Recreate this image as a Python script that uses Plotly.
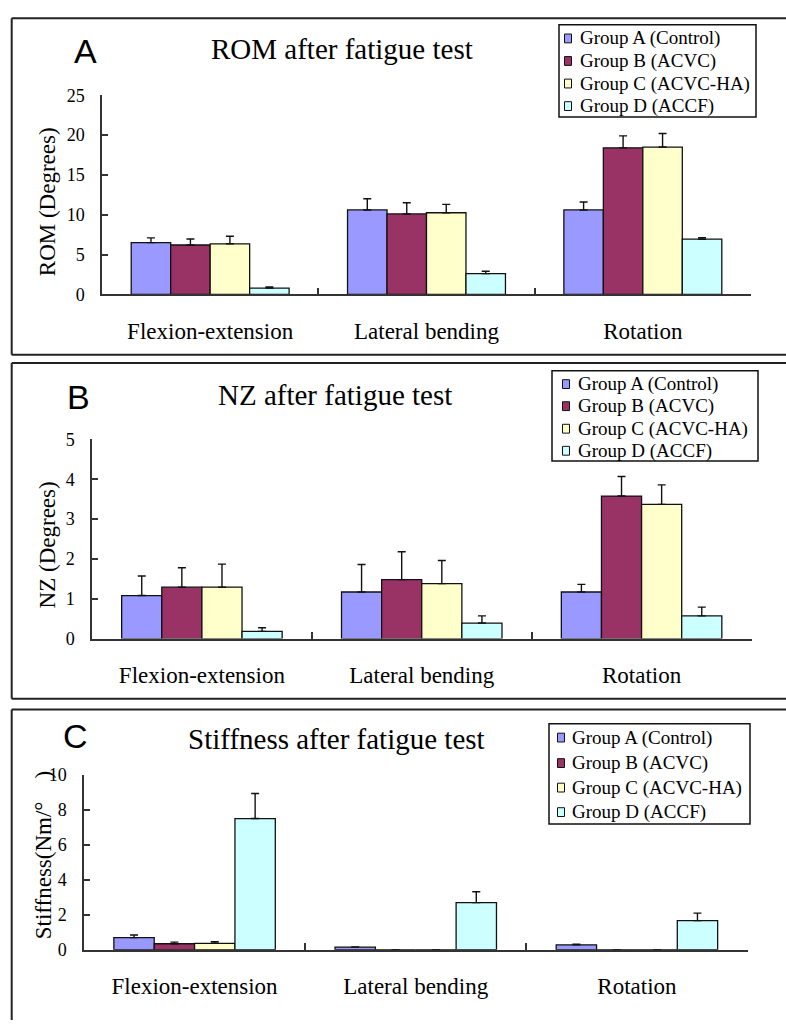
import plotly.graph_objects as go

# ---------------- data ----------------
categories = ["Flexion-extension", "Lateral bending", "Rotation"]
groups = ["Group A (Control)", "Group B (ACVC)", "Group C (ACVC-HA)", "Group D (ACCF)"]
colors = ["#9999FF", "#993366", "#FFFFCC", "#CCFFFF"]

# ROM after fatigue test (degrees)
rom_a = [6.5, 10.6, 10.6]
rom_b = [6.2, 10.1, 18.4]
rom_c = [6.35, 10.25, 18.5]
rom_d = [0.78, 2.6, 6.93]
rom_a_err = [0.6, 1.4, 1.0]
rom_b_err = [0.75, 1.4, 1.5]
rom_c_err = [0.95, 1.05, 1.7]
rom_d_err = [0.16, 0.3, 0.2]

# NZ after fatigue test (degrees)
nz_a = [1.08, 1.17, 1.17]
nz_b = [1.29, 1.48, 3.58]
nz_c = [1.29, 1.38, 3.37]
nz_d = [0.18, 0.39, 0.57]
nz_a_err = [0.49, 0.69, 0.19]
nz_b_err = [0.49, 0.7, 0.49]
nz_c_err = [0.58, 0.58, 0.49]
nz_d_err = [0.09, 0.18, 0.22]

# Stiffness after fatigue test (Nm/deg)
st_a = [0.69, 0.15, 0.28]
st_b = [0.34, 0, 0]
st_c = [0.36, 0, 0]
st_d = [7.5, 2.69, 1.66]
st_a_err = [0.15, 0.0, 0.03]
st_b_err = [0.09, 0.0, 0.0]
st_c_err = [0.09, 0.0, 0.0]
st_d_err = [1.43, 0.62, 0.43]

rom_ticks = [0, 5, 10, 15, 20, 25]
nz_ticks = [0, 1, 2, 3, 4, 5]
st_ticks = [0, 2, 4, 6, 8, 10]

# ---------------- geometry helpers (page pixels -> paper) ----------------
W, H = 786, 1030


def px(x):
    return x / W


def py(y):
    return 1 - y / H


SERIF = "Liberation Serif, Times New Roman, serif"
SANS = "Liberation Sans, Arial, sans-serif"

panels = [
    dict(letter="A", title="ROM after fatigue test", ytitle="ROM (Degrees)",
         series=[rom_a, rom_b, rom_c, rom_d], errs=[rom_a_err, rom_b_err, rom_c_err, rom_d_err],
         ticks=rom_ticks, xdom=(102, 751), ydom=(290, 87),
         letter_pos=(85, 42), title_pos=(342, 40), ytitle_pos=(47, 196),
         frame=(11.7, 8.3, 351.7),
         legend=dict(box=(559, 15, 756, 109), rows=[29, 52, 75, 98], mx=568, tx=578)),
    dict(letter="B", title="NZ after fatigue test", ytitle="NZ (Degrees)",
         series=[nz_a, nz_b, nz_c, nz_d], errs=[nz_a_err, nz_b_err, nz_c_err, nz_d_err],
         ticks=nz_ticks, xdom=(92, 751.5), ydom=(641, 438),
         letter_pos=(78, 395), title_pos=(335, 393), ytitle_pos=(47, 546),
         frame=(11.7, 360, 702.3),
         legend=dict(box=(552, 368, 758, 460), rows=[381.5, 404, 427, 449.5], mx=566, tx=576)),
    dict(letter="C", title="Stiffness after fatigue test", ytitle="Stiffness(Nm/°    )",
         series=[st_a, st_b, st_c, st_d], errs=[st_a_err, st_b_err, st_c_err, st_d_err],
         ticks=st_ticks, xdom=(84, 747.5), ydom=(958.3, 780),
         letter_pos=(75, 740), title_pos=(336, 743), ytitle_pos=(43, 862),
         frame=(11.7, 713.3, None),
         legend=dict(box=(549, 728, 750, 830), rows=[742, 768, 793, 818], mx=561, tx=570)),
]

fig = go.Figure()
shapes = []
annotations = []
layout_axes = {}
frame_line = dict(color="#222222", width=2)

for i, p in enumerate(panels):
    n = "" if i == 0 else str(i + 1)
    xa, ya = "x" + n, "y" + n
    for g, (name, col, vals, err) in enumerate(zip(groups, colors, p["series"], p["errs"])):
        fig.add_trace(go.Bar(
            x=categories, y=vals, name=name, xaxis=xa, yaxis=ya,
            marker=dict(color=col, line=dict(color="#111111", width=1.3)),
            error_y=dict(type="data", array=err, arrayminus=[0] * len(err), symmetric=False,
                         color="#111111", thickness=1.4, width=4),
            showlegend=False,
        ))
    layout_axes["xaxis" + n] = dict(
        domain=[px(p["xdom"][0]), px(p["xdom"][1])], anchor=ya,
        type="category", range=[-0.5, 2.5], showline=True, linecolor="#333333", linewidth=1.5,
        ticks="inside", tickson="boundaries", ticklen=7, tickcolor="#333333", tickwidth=1.5,
        tickfont=dict(family=SERIF, size=23, color="#000000"), ticklabelstandoff=15,
        showgrid=False, zeroline=False, fixedrange=True,
    )
    t = p["ticks"]
    layout_axes["yaxis" + n] = dict(
        domain=[py(p["ydom"][0]), py(p["ydom"][1])], anchor=xa,
        range=[t[0], t[-1]], tickvals=t, showline=True, linecolor="#333333", linewidth=1.5,
        ticks="inside", ticklen=6, tickcolor="#333333", tickwidth=1.5,
        tickfont=dict(family=SERIF, size=18, color="#000000"), ticklabelstandoff=12,
        showgrid=False, zeroline=False, fixedrange=True,
    )
    # panel frame (top, left, bottom edges; right edge lies outside the picture)
    fx0, fy0, fy1 = p["frame"]
    shapes.append(dict(type="line", xref="paper", yref="paper", x0=px(fx0), x1=1,
                       y0=py(fy0), y1=py(fy0), line=frame_line))
    ybot = py(fy1) if fy1 is not None else 0
    shapes.append(dict(type="line", xref="paper", yref="paper", x0=px(fx0), x1=px(fx0),
                       y0=ybot, y1=py(fy0), line=frame_line))
    if fy1 is not None:
        shapes.append(dict(type="line", xref="paper", yref="paper", x0=px(fx0), x1=1,
                           y0=py(fy1), y1=py(fy1), line=frame_line))
    # panel letter
    annotations.append(dict(text=p["letter"], x=px(p["letter_pos"][0]), y=py(p["letter_pos"][1]),
                            xref="paper", yref="paper", showarrow=False, xanchor="center", yanchor="middle",
                            font=dict(family=SANS, size=34, color="#000000")))
    # title
    annotations.append(dict(text=p["title"], x=px(p["title_pos"][0]), y=py(p["title_pos"][1]),
                            xref="paper", yref="paper", showarrow=False, xanchor="center", yanchor="middle",
                            font=dict(family=SERIF, size=29, color="#000000")))
    # y axis title
    annotations.append(dict(text=p["ytitle"], x=px(p["ytitle_pos"][0]), y=py(p["ytitle_pos"][1]),
                            xref="paper", yref="paper", showarrow=False, xanchor="center", yanchor="middle",
                            textangle=-90, font=dict(family=SERIF, size=23, color="#000000")))
    # legend box
    lg = p["legend"]
    bx0, by0, bx1, by1 = lg["box"]
    shapes.append(dict(type="rect", xref="paper", yref="paper", x0=px(bx0), x1=px(bx1),
                       y0=py(by1), y1=py(by0), line=dict(color="#111111", width=1.5),
                       fillcolor="#FFFFFF"))
    for name, col, ry in zip(groups, colors, lg["rows"]):
        shapes.append(dict(type="rect", xref="paper", yref="paper",
                           x0=px(lg["mx"] - 3.5), x1=px(lg["mx"] + 3.5),
                           y0=py(ry + 4.5), y1=py(ry - 4.5),
                           line=dict(color="#111111", width=1), fillcolor=col))
        annotations.append(dict(text=name, x=px(lg["tx"]), y=py(ry), xref="paper", yref="paper",
                                showarrow=False, xanchor="left", yanchor="middle",
                                font=dict(family=SERIF, size=19, color="#000000")))

fig.update_layout(
    width=W, height=H, margin=dict(l=0, r=0, t=0, b=0),
    paper_bgcolor="#FFFFFF", plot_bgcolor="#FFFFFF",
    barmode="group", bargap=0.27, bargroupgap=0,
    showlegend=False, shapes=shapes, annotations=annotations,
    **layout_axes,
)

fig.write_html("out.html", config={"displayModeBar": False},
               post_script="document.body.style.margin='0';")
